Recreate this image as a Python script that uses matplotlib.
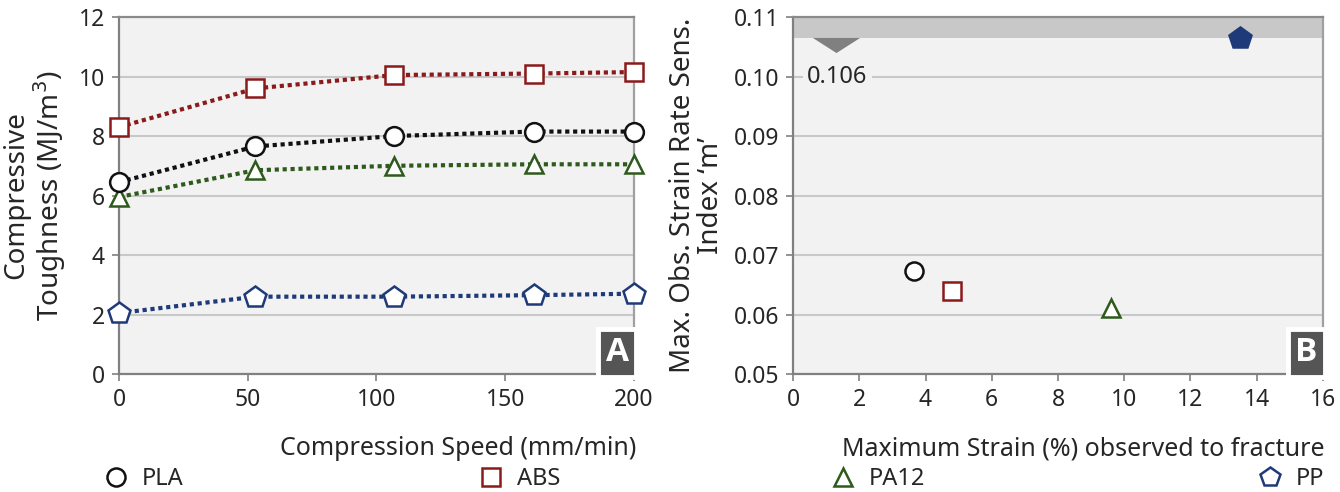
import matplotlib
matplotlib.use("Agg")
import matplotlib.pyplot as plt
from matplotlib.lines import Line2D

plt.rcParams['font.family'] = ['Noto Sans', 'DejaVu Sans']

# ---- data ----
speeds = [0, 53, 107, 161, 200]
pla_tough = [6.45, 7.65, 8.0, 8.15, 8.15]
abs_tough = [8.3, 9.6, 10.05, 10.1, 10.15]
pa12_tough = [5.95, 6.85, 7.0, 7.05, 7.05]
pp_tough = [2.05, 2.6, 2.6, 2.65, 2.7]

materials = ['PLA', 'ABS', 'PA12', 'PP']
max_strain = [3.65, 4.8, 9.6, 13.5]
m_index = [0.0673, 0.064, 0.0611, 0.1065]
band_low = 0.1065
ref_marker_x = 1.3
ref_marker_y = 0.10525
ref_label = '0.106'

colors = {'PLA': '#111111', 'ABS': '#8B1A1A', 'PA12': '#2E5A1C', 'PP': '#1F3A78'}
markers = {'PLA': 'o', 'ABS': 's', 'PA12': '^', 'PP': 'p'}

TXT = '#262626'
SPINE = '#808080'
GRID = '#c8c8c8'
BG = '#f2f2f2'

fig = plt.figure(figsize=(13.4, 4.92), dpi=100)
axA = fig.add_axes([0.0888, 0.2398, 0.3843, 0.7256])
axB = fig.add_axes([0.5918, 0.2398, 0.3955, 0.7256])

for ax in (axA, axB):
    ax.set_facecolor(BG)
    for s in ax.spines.values():
        s.set_color(SPINE)
        s.set_linewidth(1.6)
    ax.spines['top'].set_color('#8a8a8a')
    ax.spines['right'].set_color('#a0a0a0')
    ax.grid(axis='y', color=GRID, linewidth=1.5)
    ax.set_axisbelow(True)
    ax.tick_params(colors=SPINE, labelcolor=TXT, labelsize=16.5, length=5, width=1.2, pad=5)

box_kw = dict(fontsize=24, fontweight='bold', color='white', zorder=10,
              family=['Open Sans', 'DejaVu Sans'],
              bbox=dict(boxstyle='square,pad=0.22', facecolor='#555555',
                        edgecolor='white', linewidth=3.5))

# ---- panel A ----
series = {'PLA': pla_tough, 'ABS': abs_tough, 'PA12': pa12_tough, 'PP': pp_tough}
for name in ['PP', 'PA12', 'PLA', 'ABS']:
    axA.plot(speeds, series[name], linestyle=(0, (1, 0.9)), linewidth=3.0,
             color=colors[name], marker=markers[name], markersize=16 if name == 'PP' else 13.5,
             markerfacecolor='white', markeredgecolor=colors[name], markeredgewidth=1.8,
             clip_on=False, zorder=3)
axA.set_xlim(0, 200)
axA.set_ylim(0, 12)
axA.set_xticks([0, 50, 100, 150, 200])
axA.set_yticks([0, 2, 4, 6, 8, 10, 12])
axA.set_ylabel('Compressive\nToughness (MJ/m$^3$)', fontsize=20, color=TXT, labelpad=8,
               linespacing=1.0)
axA.set_xlabel('Compression Speed (mm/min)', fontsize=18, color=TXT)
axA.xaxis.set_label_coords(1.005, -0.175)
axA.xaxis.label.set_ha('right')
axA.text(0.99, 0.013, 'A', transform=axA.transAxes, ha='right', va='bottom', **box_kw)

# ---- panel B ----
axB.axhspan(band_low, 0.11, color='#c8c8c8', zorder=1, linewidth=0)
tri = [(-1.0, 0.32), (1.0, 0.32), (0.0, -0.32)]
axB.plot([ref_marker_x], [ref_marker_y], marker=tri, markersize=34, color='#808080',
         markeredgewidth=0, linestyle='none', zorder=3)
axB.text(ref_marker_x + 0.03, 0.1, ref_label, ha='center', va='center', fontsize=17, color=TXT,
         zorder=4, bbox=dict(facecolor=BG, edgecolor='none', pad=3))
for i, name in enumerate(materials):
    filled = name == 'PP'
    axB.plot([max_strain[i]], [m_index[i]], linestyle='none', marker=markers[name],
             markersize=16 if name == 'PP' else 13,
             markerfacecolor=colors[name] if filled else 'white',
             markeredgecolor=colors[name], markeredgewidth=1.8, zorder=5)
axB.set_xlim(0, 16)
axB.set_ylim(0.05, 0.11)
axB.set_xticks(range(0, 17, 2))
axB.set_yticks([0.05, 0.06, 0.07, 0.08, 0.09, 0.10, 0.11])
axB.set_yticklabels(['0.05', '0.06', '0.07', '0.08', '0.09', '0.10', '0.11'])
axB.set_ylabel('Max. Obs. Strain Rate Sens.\nIndex \u2018m\u2019', fontsize=20, color=TXT,
               labelpad=6, linespacing=1.0)
axB.set_xlabel('Maximum Strain (%) observed to fracture', fontsize=18, color=TXT)
axB.xaxis.set_label_coords(1.003, -0.175)
axB.xaxis.label.set_ha('right')
axB.text(0.99, 0.013, 'B', transform=axB.transAxes, ha='right', va='bottom', **box_kw)

# ---- legend ----
leg_x = {'PLA': 118, 'ABS': 493, 'PA12': 845, 'PP': 1272}
for name in materials:
    hnd = Line2D([], [], linestyle='none', marker=markers[name],
                 markersize=15 if name == 'PP' else 13, markerfacecolor='white',
                 markeredgecolor=colors[name], markeredgewidth=1.8)
    lg = fig.legend([hnd], [name], loc='center left',
                    bbox_to_anchor=((leg_x[name] - 14) / 1340, 1 - 479 / 492),
                    frameon=False, fontsize=17, handlelength=1.0, handletextpad=0.6,
                    borderpad=0, borderaxespad=0)
    for t in lg.get_texts():
        t.set_color(TXT)

fig.savefig('out.png', dpi=100)
